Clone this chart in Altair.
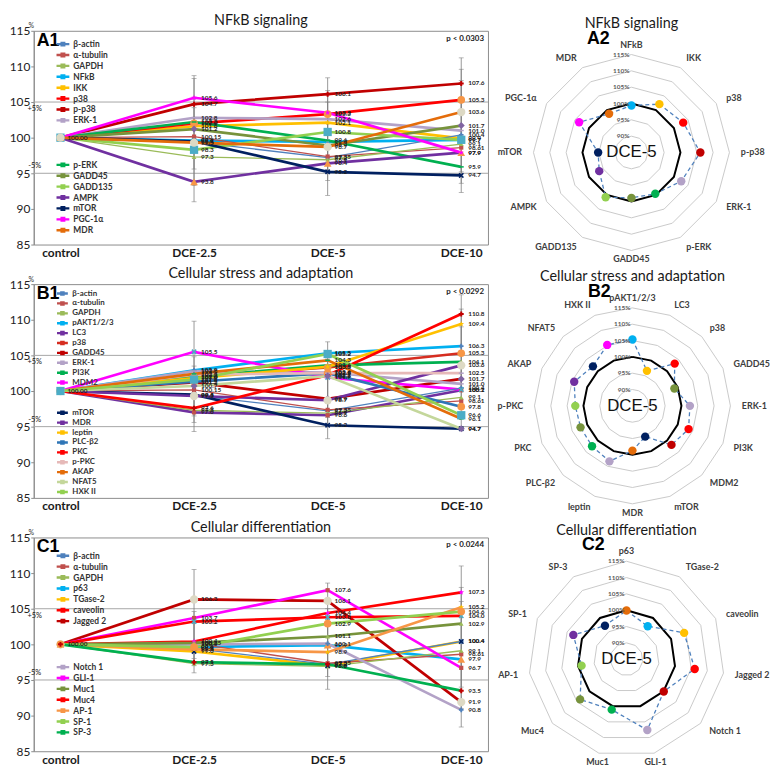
import altair as alt
import pandas as pd

FONT = "Lato"
STAGES = ["control", "DCE-2.5", "DCE-5", "DCE-10"]
HK = ["β-actin", "α-tubulin", "GAPDH"]

# housekeeping values (DCE-2.5, DCE-5, DCE-10); control = 100
BACTIN = [99.4, 97.2, 100.4]
ATUB = [100.15, 97.35, 98.61]
GAPDH = [97.3, 96.9, 99.1]

# ---------------- A: NFkB signaling ----------------
A_SERIES = ["β-actin", "α-tubulin", "GAPDH", "NFkB", "IKK", "p38", "p-p38", "ERK-1",
            "p-ERK", "GADD45", "GADD135", "AMPK", "mTOR", "PGC-1α", "MDR"]
A_VALUES = {
    "β-actin": BACTIN, "α-tubulin": ATUB, "GAPDH": GAPDH,
    "NFkB": [99.6, 99.4, 99.7],
    "IKK": [101.6, 102.1, 99.9],
    "p38": [102.0, 103.3, 105.3],
    "p-p38": [104.7, 106.1, 107.6],
    "ERK-1": [102.8, 102.6, 101.0],
    "p-ERK": [102.2, 99.6, 95.9],
    "GADD45": [101.2, 98.9, 101.7],
    "GADD135": [98.3, 100.8, 99.7],
    "AMPK": [93.8, 96.4, 97.9],
    "mTOR": [99.5, 95.2, 94.7],
    "PGC-1α": [105.6, 103.5, 97.9],
    "MDR": [99.3, 98.7, 103.6],
}
A_COLORS = {
    "β-actin": "#4F81BD", "α-tubulin": "#C0504D", "GAPDH": "#9BBB59", "NFkB": "#00B0F0",
    "IKK": "#FFC000", "p38": "#FF0000", "p-p38": "#C00000", "ERK-1": "#B3A2C7",
    "p-ERK": "#00B050", "GADD45": "#77933C", "GADD135": "#92D050", "AMPK": "#7030A0",
    "mTOR": "#002060", "PGC-1α": "#FF00FF", "MDR": "#E46C0A",
}
A_MARKERS = {
    "β-actin": ("plus", "#4F81BD", 22), "α-tubulin": ("square", "#C0504D", 18),
    "GAPDH": ("triangle", "#9BBB59", 22), "NFkB": ("x", "#4BACC6", 30),
    "IKK": ("star", "#FFC000", 35), "p38": ("circle", "#F79646", 60),
    "p-p38": ("plus", "#C00000", 25), "ERK-1": ("dash", "#B3A2C7", 25),
    "p-ERK": ("dash", "#00B050", 25), "GADD45": ("diamond", "#8064A2", 50),
    "GADD135": ("square", "#4BACC6", 70), "AMPK": ("triangle", "#F79646", 60),
    "mTOR": ("x", "#002060", 30), "PGC-1α": ("star", "#FF00FF", 35),
    "MDR": ("circle", "#DDD9C4", 70),
}
A_ERR_STAGE = ["DCE-2.5"] * 3 + ["DCE-5"] * 3 + ["DCE-10"] * 3
A_ERR_LO = [91.0, 93.3, 95.6, 91.9, 94.0, 95.5, 92.3, 93.6, 95.2]
A_ERR_HI = [108.7, 108.3, 104.2, 108.4, 106.6, 105.0, 111.2, 109.6, 108.0]
A_RADAR = ["NFkB", "IKK", "p38", "p-p38", "ERK-1", "p-ERK", "GADD45", "GADD135",
           "AMPK", "mTOR", "PGC-1α", "MDR"]

# ---------------- B: Cellular stress and adaptation ----------------
B_SERIES = ["β-actin", "α-tubulin", "GAPDH", "pAKT1/2/3", "LC3", "p38", "GADD45", "ERK-1",
            "PI3K", "MDM2", "mTOR", "MDR", "leptin", "PLC-β2", "PKC", "p-PKC", "AKAP",
            "NFAT5", "HXK II"]
B_VALUES = {
    "β-actin": BACTIN, "α-tubulin": ATUB, "GAPDH": GAPDH,
    "pAKT1/2/3": [102.9, 105.3, 106.3],
    "LC3": [97.0, 96.6, 100.1],
    "p38": [102.0, 103.3, 105.3],
    "GADD45": [101.2, 98.9, 101.7],
    "ERK-1": [102.8, 102.6, 101.0],
    "PI3K": [102.0, 103.6, 104.1],
    "MDM2": [105.5, 101.9, 100.2],
    "mTOR": [99.5, 95.2, 94.7],
    "MDR": [99.3, 98.7, 103.6],
    "leptin": [101.8, 103.4, 109.4],
    "PLC-β2": [101.3, 102.5, 97.8],
    "PKC": [97.6, 102.2, 110.8],
    "p-PKC": [102.3, 102.5, 102.5],
    "AKAP": [102.4, 104.3, 96.1],
    "NFAT5": [100.7, 102.1, 94.7],
    "HXK II": [101.6, 105.2, 96.6],
}
B_COLORS = {
    "β-actin": "#4F81BD", "α-tubulin": "#C0504D", "GAPDH": "#9BBB59", "pAKT1/2/3": "#00B0F0",
    "LC3": "#7030A0", "p38": "#D62D20", "GADD45": "#C00000", "ERK-1": "#B3A2C7",
    "PI3K": "#00B050", "MDM2": "#FF00FF", "mTOR": "#002060", "MDR": "#7030A0",
    "leptin": "#FFC000", "PLC-β2": "#2E75B6", "PKC": "#FF0000", "p-PKC": "#E6B9B8",
    "AKAP": "#E46C0A", "NFAT5": "#C4D79B", "HXK II": "#92D050",
}
B_MARKERS = {
    "β-actin": ("plus", "#4F81BD", 22), "α-tubulin": ("square", "#C0504D", 18),
    "GAPDH": ("triangle", "#9BBB59", 22), "pAKT1/2/3": ("x", "#4BACC6", 30),
    "LC3": ("diamond", "#7030A0", 35), "p38": ("circle", "#D07A3A", 60),
    "GADD45": ("plus", "#C00000", 25), "ERK-1": ("dash", "#B3A2C7", 25),
    "PI3K": ("dash", "#00B050", 25), "MDM2": ("diamond", "#8064A2", 50),
    "mTOR": ("square", "#4BACC6", 70), "MDR": ("triangle", "#F79646", 60),
    "leptin": ("star", "#FFC000", 35), "PLC-β2": ("x", "#2E75B6", 30),
    "PKC": ("circle", "#C3D69B", 70), "p-PKC": ("plus", "#E6B9B8", 25),
    "AKAP": ("dash", "#E46C0A", 25), "NFAT5": ("dash", "#C4D79B", 25),
    "HXK II": ("circle", "#B9CDE5", 70),
}
B_ERR_STAGE = A_ERR_STAGE
B_ERR_LO = [94.3, 95.6, 96.5, 93.3, 95.0, 96.3, 95.0, 98.0, 100.5]
B_ERR_HI = [109.8, 104.8, 103.5, 106.9, 104.5, 103.4, 113.5, 111.5, 109.0]
B_RADAR = ["pAKT1/2/3", "LC3", "p38", "GADD45", "ERK-1", "PI3K", "MDM2", "mTOR", "MDR",
           "leptin", "PLC-β2", "PKC", "p-PKC", "AKAP", "NFAT5", "HXK II"]

# ---------------- C: Cellular differentiation ----------------
C_SERIES = ["β-actin", "α-tubulin", "GAPDH", "p63", "TGase-2", "caveolin", "Jagged 2",
            "Notch 1", "GLI-1", "Muc1", "Muc4", "AP-1", "SP-1", "SP-3"]
C_VALUES = {
    "β-actin": BACTIN, "α-tubulin": ATUB, "GAPDH": GAPDH,
    "p63": [99.6, 99.9, 97.9],
    "TGase-2": [99.0, 97.0, 100.4],
    "caveolin": [100.4, 104.4, 107.3],
    "Jagged 2": [106.3, 106.1, 91.9],
    "Notch 1": [100.0, 100.1, 90.8],
    "GLI-1": [103.7, 107.6, 96.7],
    "Muc1": [100.2, 101.1, 102.9],
    "Muc4": [103.2, 103.8, 104.0],
    "AP-1": [99.3, 98.9, 105.2],
    "SP-1": [99.6, 102.9, 104.6],
    "SP-3": [97.5, 97.2, 93.5],
}
C_COLORS = {
    "β-actin": "#4F81BD", "α-tubulin": "#C0504D", "GAPDH": "#9BBB59", "p63": "#00B0F0",
    "TGase-2": "#FFC000", "caveolin": "#FF0000", "Jagged 2": "#C00000", "Notch 1": "#B3A2C7",
    "GLI-1": "#FF00FF", "Muc1": "#77933C", "Muc4": "#FF0000", "AP-1": "#F79646",
    "SP-1": "#92D050", "SP-3": "#00B050",
}
C_MARKERS = {
    "β-actin": ("plus", "#4F81BD", 22), "α-tubulin": ("square", "#C0504D", 18),
    "GAPDH": ("triangle", "#9BBB59", 22), "p63": ("x", "#4BACC6", 30),
    "TGase-2": ("star", "#FFC000", 35), "caveolin": ("circle", "#F79646", 70),
    "Jagged 2": ("plus", "#C00000", 25), "Notch 1": ("dash", "#B3A2C7", 25),
    "GLI-1": ("dash", "#FF00FF", 25), "Muc1": ("diamond", "#8064A2", 55),
    "Muc4": ("square", "#4BACC6", 70), "AP-1": ("triangle", "#F79646", 60),
    "SP-1": ("x", "#92D050", 30), "SP-3": ("star", "#00B050", 30),
}
C_ERR_STAGE = A_ERR_STAGE
C_ERR_LO = [96.0, 97.0, 98.0, 93.7, 95.5, 96.8, 88.4, 91.0, 94.0]
C_ERR_HI = [110.5, 104.6, 103.0, 108.6, 105.0, 103.5, 111.0, 108.0, 106.0]
C_RADAR = ["p63", "TGase-2", "caveolin", "Jagged 2", "Notch 1", "GLI-1", "Muc1", "Muc4",
           "AP-1", "SP-1", "SP-3"]

# legend layout per panel: (top of block 1, top of block 2, rowPadding, font size, symbol size)
PANELS = [
    dict(title="NFkB signaling", tag1="A1", tag2="A2", p="p < 0.0303", series=A_SERIES,
         n1=8, values=A_VALUES, colors=A_COLORS, markers=A_MARKERS, err=(A_ERR_STAGE, A_ERR_LO, A_ERR_HI),
         radar=A_RADAR, leg=(9.0, 131.0, -2.7, 8.5, 42)),
    dict(title="Cellular stress and adaptation", tag1="B1", tag2="B2", p="p < 0.0292", series=B_SERIES,
         n1=10, values=B_VALUES, colors=B_COLORS, markers=B_MARKERS, err=(B_ERR_STAGE, B_ERR_LO, B_ERR_HI),
         radar=B_RADAR, leg=(5.5, 126.0, -3.2, 8.0, 30)),
    dict(title="Cellular differentiation", tag1="C1", tag2="C2", p="p < 0.0244", series=C_SERIES,
         n1=7, values=C_VALUES, colors=C_COLORS, markers=C_MARKERS, err=(C_ERR_STAGE, C_ERR_LO, C_ERR_HI),
         radar=C_RADAR, leg=(14.0, 126.5, -3.1, 8.5, 40)),
]

SYM = {
    "plus": "cross", "square": "square", "circle": "circle", "triangle": "triangle-up",
    "diamond": "diamond",
    "x": "M-1,-0.6L-0.6,-1L0,-0.4L0.6,-1L1,-0.6L0.4,0L1,0.6L0.6,1L0,0.4L-0.6,1L-1,0.6L-0.4,0Z",
    "star": "M0,-1L0.24,-0.33L0.95,-0.31L0.38,0.12L0.59,0.81L0,0.4L-0.59,0.81L-0.38,0.12L-0.95,-0.31L-0.24,-0.33Z",
    "dash": "M-1,-0.3H1V0.3H-1Z",
}
LEG_SYM = "M-2,0H2M-0.4,-0.4H0.4V0.4H-0.4Z"

W_LINE, H_LINE = 459, 216
W_RAD, K_RAD = 262, 3.3
RAD_TOP, RAD_BOT = 123, 114          # pixel extent of radar plot above / below its centre
H_RAD = RAD_TOP + RAD_BOT
TITLE_SIZE = 14.5


def fmt(v):
    return f"{v:.1f}" if abs(round(v, 1) - v) < 1e-9 else f"{v:.2f}"


XS = alt.Scale(type="point", domain=STAGES, padding=0.2)
XA = alt.Axis(labelFont=FONT, labelFontSize=12, labelFontWeight="bold", labelColor="#1a1a1a",
              tickSize=0, domain=False, labelPadding=3, grid=False, labelAngle=0)
YS = alt.Scale(domain=[85, 115], nice=False, zero=False)
YA = alt.Axis(values=[85, 90, 95, 100, 105, 110, 115], labelFont=FONT, labelFontSize=12,
              labelColor="#222222", tickSize=3, tickColor="#8c8c8c", domainColor="#8c8c8c",
              grid=False, title="%", titleAngle=0, titleX=-3, titleY=-2, titleFontSize=7,
              titleFontWeight="normal", titleFont=FONT, titleColor="#333333", titleAlign="center",
              titleBaseline="bottom", labelPadding=1)


def X():
    return alt.X("stage:N", scale=XS, axis=XA, title=None)


def Y(f):
    return alt.Y(f"{f}:Q", scale=YS, axis=YA)


def title_mark(text, xpix, ypix):
    return alt.Chart(pd.DataFrame({"t": [text]})).mark_text(
        font=FONT, fontSize=TITLE_SIZE, color="#1a1a1a", align="center", baseline="alphabetic"
    ).encode(x=alt.value(xpix), y=alt.value(ypix), text="t:N")


def line_panel(P):
    series = P["series"]
    rows = []
    for s in series:
        for j, (st, v) in enumerate(zip(STAGES, [100.0] + P["values"][s])):
            rows.append({"series": s, "stage": st, "idx": j, "value": v,
                         "label": "100.00" if j == 0 else fmt(v)})
    df = pd.DataFrame(rows)
    layers = []
    ref = pd.DataFrame({"value": [95, 105]})
    layers.append(alt.Chart(ref).mark_rule(color="#a6a6a6", strokeWidth=1).encode(y=Y("value")))
    plus = pd.DataFrame({"value": [105], "t": ["+5%"]})
    minus = pd.DataFrame({"value": [95], "t": ["-5%"]})
    layers.append(alt.Chart(plus).mark_text(font=FONT, fontSize=7.5, baseline="top", dy=3, color="#222")
                  .encode(x=alt.value(1), y=Y("value"), text="t:N"))
    layers.append(alt.Chart(minus).mark_text(font=FONT, fontSize=7.5, baseline="bottom", dy=-3, color="#222")
                  .encode(x=alt.value(1), y=Y("value"), text="t:N"))
    leg_y1, leg_y2, rowpad, lfs, ssize = P["leg"]
    groups = [(series[:P["n1"]], leg_y1), (series[P["n1"]:], leg_y2)]
    for grp, ly in groups:
        leg = alt.Legend(orient="none", legendX=25, legendY=ly, title=None, symbolType=LEG_SYM,
                         symbolSize=ssize, symbolStrokeWidth=2.4, labelFont=FONT, labelFontSize=lfs,
                         labelFontWeight="bold", labelColor="#333333", rowPadding=rowpad, padding=0,
                         labelOffset=6, symbolLimit=0, symbolFillColor="transparent")
        color = alt.Color("series:N", scale=alt.Scale(domain=grp, range=[P["colors"][s] for s in grp]),
                          legend=leg)
        thick = [s for s in grp if s not in HK]
        thin = [s for s in grp if s in HK]
        sub = [alt.Chart(df[df.series.isin(thick)]).mark_line(strokeWidth=2.7).encode(
            x=X(), y=Y("value"), order=alt.Order("idx:Q"), color=color)]
        if thin:
            sub.append(alt.Chart(df[df.series.isin(thin)]).mark_line(strokeWidth=1.3).encode(
                x=X(), y=Y("value"), order=alt.Order("idx:Q"), color=color))
        layers.append(alt.layer(*sub))
    est, elo, ehi = P["err"]
    err = pd.DataFrame({"stage": est, "lo": elo, "hi": ehi})
    layers.append(alt.Chart(err).mark_rule(color="#7f7f7f", strokeWidth=0.8)
                  .encode(x=X(), y=Y("lo"), y2="hi:Q"))
    caps = pd.DataFrame({"stage": list(est) * 2, "value": list(elo) + list(ehi)})
    layers.append(alt.Chart(caps).mark_tick(color="#7f7f7f", thickness=0.8, size=5)
                  .encode(x=X(), y=Y("value")))
    mk = P["markers"]
    layers.append(alt.Chart(df).mark_point(filled=True, opacity=1, strokeWidth=0).encode(
        x=X(), y=Y("value"),
        shape=alt.Shape("series:N", scale=alt.Scale(domain=series, range=[SYM[mk[s][0]] for s in series]), legend=None),
        fill=alt.Fill("series:N", scale=alt.Scale(domain=series, range=[mk[s][1] for s in series]), legend=None),
        size=alt.Size("series:N", scale=alt.Scale(type="ordinal", domain=series, range=[mk[s][2] for s in series]), legend=None),
    ))
    labdf = df[(df.idx > 0) | (df.series == series[0])]
    layers.append(alt.Chart(labdf).mark_text(align="left", dx=7, font=FONT, fontSize=6.5,
                                             fontWeight="bold", color="#1f1f1f")
                  .encode(x=X(), y=Y("value"), text="label:N"))
    tag = pd.DataFrame({"t": [P["tag1"]]})
    layers.append(alt.Chart(tag).mark_text(font="Liberation Sans", fontSize=18, fontWeight="bold",
                                           align="left", baseline="top", color="black")
                  .encode(x=alt.value(3), y=alt.value(1), text="t:N"))
    pv = pd.DataFrame({"t": [P["p"]]})
    layers.append(alt.Chart(pv).mark_text(font=FONT, fontSize=8, fontWeight="bold", align="right",
                                          baseline="top", color="#222")
                  .encode(x=alt.value(W_LINE - 4), y=alt.value(4), text="t:N"))
    layers.append(title_mark(P["title"], W_LINE / 2, -6))
    return alt.layer(*layers).resolve_scale(color="independent").properties(
        width=W_LINE, height=H_LINE, view=alt.ViewBackground(stroke="#8c8c8c", strokeWidth=1))


def radar_panel(P):
    axes = P["radar"]
    n = len(axes)
    vals = [P["values"][a][1] for a in axes]  # DCE-5 column
    xs = alt.Scale(domain=[-W_RAD / 2 / K_RAD, W_RAD / 2 / K_RAD], nice=False, zero=False)
    ys = alt.Scale(domain=[-RAD_BOT / K_RAD, RAD_TOP / K_RAD], nice=False, zero=False)
    RX = alt.X("px:Q", scale=xs, axis=None)
    RY = alt.Y("py:Q", scale=ys, axis=None)

    def polar(ch):
        return ch.transform_calculate(
            px=f"(datum.v - 85) * sin(2 * PI * datum.k / {n})",
            py=f"(datum.v - 85) * cos(2 * PI * datum.k / {n})")

    levels = [90, 95, 100, 105, 110, 115]
    ring = pd.DataFrame([{"level": lv, "k": k, "v": lv} for lv in levels for k in range(n + 1)])
    ctrl = pd.DataFrame([{"k": k, "v": 100.0} for k in range(n + 1)])
    poly = pd.DataFrame([{"k": k, "axis": axes[k % n], "v": vals[k % n]} for k in range(n + 1)])
    pts = poly[poly.k < n]
    layers = [
        polar(alt.Chart(ring)).mark_line(color="#c4c4c4", strokeWidth=0.9).encode(
            x=RX, y=RY, detail="level:N", order="k:Q"),
        polar(alt.Chart(ctrl)).mark_line(color="black", strokeWidth=2).encode(x=RX, y=RY, order="k:Q"),
        polar(alt.Chart(poly)).mark_line(color="#4F81BD", strokeWidth=1.3, strokeDash=[4, 3]).encode(
            x=RX, y=RY, order="k:Q"),
        polar(alt.Chart(pts)).mark_circle(size=72, opacity=1).encode(
            x=RX, y=RY, color=alt.Color("axis:N", scale=alt.Scale(domain=axes, range=[P["colors"][a] for a in axes]), legend=None)),
    ]
    rl = pd.DataFrame({"k": [0] * len(levels), "v": levels, "t": [f"{lv}%" for lv in levels]})
    layers.append(polar(alt.Chart(rl)).mark_text(align="right", dx=-2, baseline="middle", font=FONT,
                                                 fontSize=6.5, fontWeight="bold", color="#595959")
                  .encode(x=RX, y=RY, text="t:N"))
    lab = pd.DataFrame({"axis": axes, "k": list(range(n))})
    base = (alt.Chart(lab)
            .transform_calculate(sx=f"sin(2 * PI * datum.k / {n})", cy=f"cos(2 * PI * datum.k / {n})")
            .transform_calculate(lr="abs(datum.sx) > 0.3 ? 33.5 : 31.5")
            .transform_calculate(px="datum.lr * datum.sx", py="datum.lr * datum.cy"))
    style = dict(font=FONT, fontSize=9, fontWeight="bold", color="#404040")
    for flt, al, bl in [("datum.sx > 0.3", "left", "middle"),
                        ("datum.sx < -0.3", "right", "middle"),
                        ("abs(datum.sx) <= 0.3 && datum.cy > 0", "center", "bottom"),
                        ("abs(datum.sx) <= 0.3 && datum.cy < 0", "center", "top")]:
        layers.append(base.transform_filter(flt).mark_text(align=al, baseline=bl, **style)
                      .encode(x=RX, y=RY, text="axis:N"))
    center = pd.DataFrame({"px": [0.0], "py": [0.0], "t": ["DCE-5"]})
    layers.append(alt.Chart(center).mark_text(font="Liberation Sans", fontSize=17, color="#111")
                  .encode(x=RX, y=RY, text="t:N"))
    tag = pd.DataFrame({"t": [P["tag2"]]})
    layers.append(alt.Chart(tag).mark_text(font="Liberation Sans", fontSize=18, fontWeight="bold",
                                           align="left", baseline="top", color="black")
                  .encode(x=alt.value(86), y=alt.value(-1), text="t:N"))
    layers.append(title_mark(P["title"], W_RAD / 2, -3))
    return alt.layer(*layers).properties(
        width=W_RAD, height=H_RAD, view=alt.ViewBackground(stroke="transparent", strokeWidth=0))


rows = [alt.hconcat(line_panel(P), radar_panel(P), spacing=8) for P in PANELS]
chart = alt.vconcat(*rows, spacing=0).properties(
    padding={"left": 0, "top": 0, "right": 0, "bottom": 0}
).configure_view(stroke="#8c8c8c")

chart.save("out.html", embed_options={"renderer": "svg", "actions": False})
